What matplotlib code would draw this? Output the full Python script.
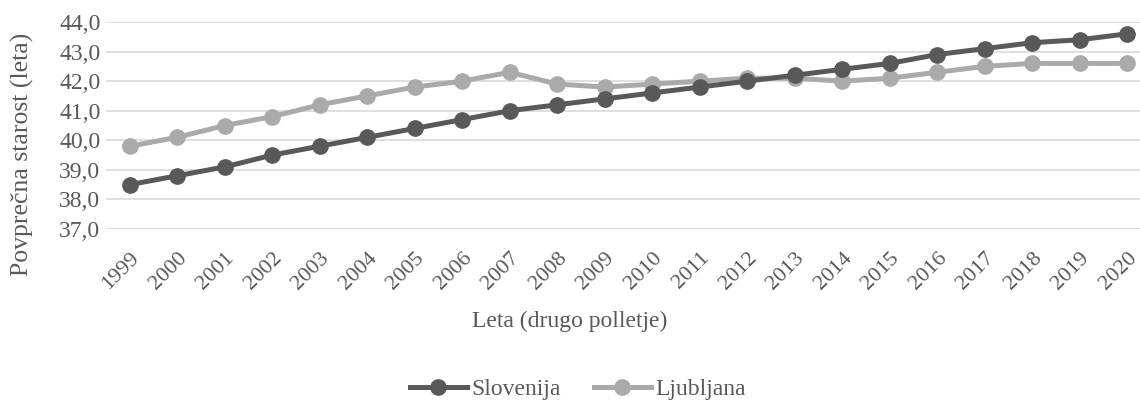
import matplotlib
matplotlib.use("Agg")
import matplotlib.pyplot as plt
from matplotlib.ticker import FuncFormatter

years = [str(y) for y in range(1999, 2021)]
slovenija = [38.5, 38.8, 39.1, 39.5, 39.8, 40.1, 40.4, 40.7, 41.0, 41.2, 41.4,
             41.6, 41.8, 42.0, 42.2, 42.4, 42.6, 42.9, 43.1, 43.3, 43.4, 43.6]
ljubljana = [39.8, 40.1, 40.5, 40.8, 41.2, 41.5, 41.8, 42.0, 42.3, 41.9, 41.8,
             41.9, 42.0, 42.1, 42.1, 42.0, 42.1, 42.3, 42.5, 42.6, 42.6, 42.6]

TEXT = "#595959"
plt.rcParams["font.family"] = ["Liberation Serif", "DejaVu Serif"]
plt.rcParams["font.size"] = 17

W, H = 1140, 400
fig = plt.figure(figsize=(W / 100, H / 100), dpi=100)
# category axis with half-step padding; right edge is cut off by the image
ax = fig.add_axes([106 / W, (H - 229) / H, (1151 - 106) / W, 207 / H])

x = range(len(years))
ax.plot(x, slovenija, color="#595959", lw=3.6, marker="o", ms=11,
        label="Slovenija", zorder=3)
ax.plot(x, ljubljana, color="#aaaaaa", lw=3.6, marker="o", ms=11,
        label="Ljubljana", zorder=2)

ax.set_xlim(-0.5, len(years) - 0.5)
ax.set_ylim(37, 44)
ax.set_yticks([37, 38, 39, 40, 41, 42, 43, 44])
ax.yaxis.set_major_formatter(FuncFormatter(lambda v, p: f"{v:.1f}".replace(".", ",")))
ax.set_xticks(list(x))
ax.set_xticklabels(years, rotation=45, ha="right", rotation_mode="anchor")

ax.grid(axis="y", color="#d9d9d9", lw=1.2)
ax.set_axisbelow(True)
for s in ax.spines.values():
    s.set_visible(False)
ax.tick_params(length=0, colors=TEXT)
ax.tick_params(axis="y", labelsize=17, pad=4)
ax.tick_params(axis="x", labelsize=16, pad=14)

fig.text(22 / W, 1 - 154 / H, "Povprečna starost (leta)", rotation=90,
         ha="center", va="center", color=TEXT, fontsize=18.5)
fig.text(570 / W, 1 - 321 / H, "Leta (drugo polletje)", ha="center",
         va="center", color=TEXT, fontsize=17)

fig.legend(loc="center", bbox_to_anchor=(578 / W, 1 - 389 / H), ncol=2,
           frameon=False, fontsize=17, labelcolor=TEXT, handlelength=2.4,
           handletextpad=0.2, columnspacing=1.4)

fig.savefig("out.png", dpi=100)
